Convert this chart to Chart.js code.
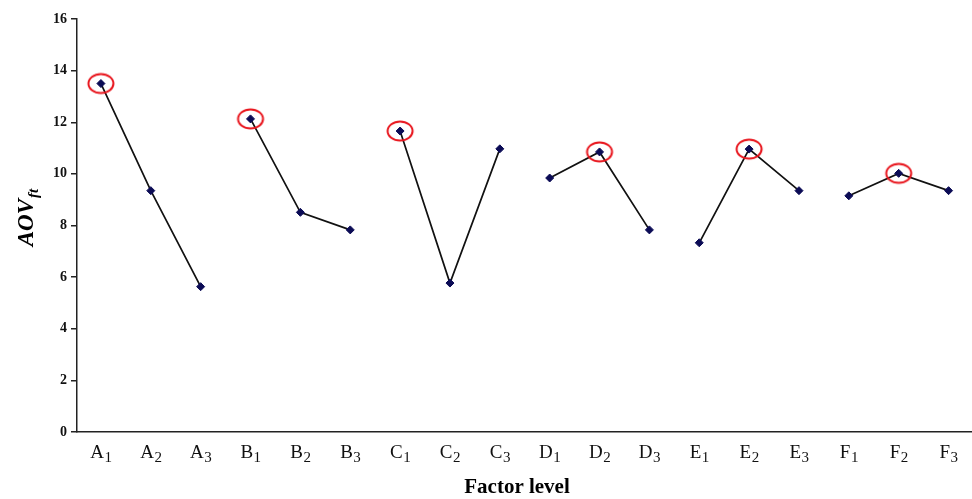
<!DOCTYPE html>
<html>
<head>
<meta charset="utf-8">
<script src="https://cdn.jsdelivr.net/npm/chart.js@4/dist/chart.umd.min.js"></script>
<style>
    html, body { margin: 0; padding: 0; background: #fff; }
    #wrap { width: 972px; height: 499px; }
</style>
</head>
<body>
<div id="wrap"><canvas id="chart" width="972" height="499"></canvas></div>
<script>
// Данные
const factors = ['A', 'B', 'C', 'D', 'E', 'F'];
const levels = ['1', '2', '3'];
const valuesA = [13.5, 9.35, 5.63];
const valuesB = [12.13, 8.51, 7.83];
const valuesC = [11.66, 5.77, 10.97];
const valuesD = [9.84, 10.85, 7.83];
const valuesE = [7.33, 10.96, 9.35];
const valuesF = [9.15, 10.02, 9.35];
const yTicks = [0, 2, 4, 6, 8, 10, 12, 14, 16];
const xTitle = 'Factor level';
const yTitle = 'AOV';
const yTitleSub = 'ft';

const groups = [valuesA, valuesB, valuesC, valuesD, valuesE, valuesF];
const SERIF = '"Liberation Serif", "DejaVu Serif", serif';

// Категории (буква + индекс)
const categories = [];
factors.forEach(f => levels.forEach(l => categories.push({ letter: f, sub: l })));

// Красный эллипс для оптимального уровня
function makeEllipse() {
    const c = document.createElement('canvas');
    c.width = 30;
    c.height = 24;
    const g = c.getContext('2d');
    g.strokeStyle = '#e8141c';
    g.lineWidth = 2;
    g.beginPath();
    g.ellipse(15, 12, 12.5, 9.5, 0, 0, Math.PI * 2);
    g.stroke();
    return c;
}

// Наборы данных: по одной линии на фактор
const datasets = groups.map((vals, gi) => ({
    data: vals.map((v, li) => ({ x: gi * 3 + li, y: v })),
    borderColor: '#111',
    borderWidth: 1.7,
    pointStyle: 'rectRot',
    pointRadius: 4,
    pointBackgroundColor: '#0b0b55',
    pointBorderColor: '#0b0b55',
    pointBorderWidth: 1,
    order: 2
}));

// Оптимальные уровни (максимум в каждой группе)
const ellipse = makeEllipse();
datasets.push({
    data: groups.map((vals, gi) => {
        const li = vals.indexOf(Math.max(...vals));
        return { x: gi * 3 + li, y: vals[li] };
    }),
    showLine: false,
    pointStyle: ellipse,
    pointRadius: 12,
    order: 1
});

// Подписи оси X с подстрочными индексами и заголовки осей
const labelsPlugin = {
    id: 'labels',
    afterDraw(chart) {
        const ctx = chart.ctx;
        const xs = chart.scales.x;
        const area = chart.chartArea;
        ctx.save();
        ctx.fillStyle = '#111';
        ctx.textBaseline = 'alphabetic';
        categories.forEach((c, i) => {
            const px = xs.getPixelForValue(i);
            ctx.font = '19px ' + SERIF;
            const w1 = ctx.measureText(c.letter).width;
            ctx.font = '15px ' + SERIF;
            const w2 = ctx.measureText(c.sub).width;
            const x0 = px - (w1 + w2) / 2;
            ctx.font = '19px ' + SERIF;
            ctx.textAlign = 'left';
            ctx.fillText(c.letter, x0, area.bottom + 26);
            ctx.font = '15px ' + SERIF;
            ctx.fillText(c.sub, x0 + w1 + 0.5, area.bottom + 30);
        });

        // Заголовок оси X
        ctx.font = 'bold 21px ' + SERIF;
        ctx.textAlign = 'center';
        ctx.fillStyle = '#000';
        ctx.fillText(xTitle, 517, 493);

        // Заголовок оси Y (повёрнутый)
        ctx.translate(33, 218);
        ctx.rotate(-Math.PI / 2);
        ctx.font = 'bold italic 23px ' + SERIF;
        const wm = ctx.measureText(yTitle).width;
        ctx.font = 'bold italic 15px ' + SERIF;
        const ws = ctx.measureText(yTitleSub).width;
        const start = -(wm + ws) / 2;
        ctx.textAlign = 'left';
        ctx.font = 'bold italic 23px ' + SERIF;
        ctx.fillText(yTitle, start, 0);
        ctx.font = 'bold italic 15px ' + SERIF;
        ctx.fillText(yTitleSub, start + wm + 1, 5);
        ctx.restore();
    }
};

const ctx = document.getElementById('chart').getContext('2d');
const chart = new Chart(ctx, {
    type: 'line',
    data: { datasets: datasets },
    plugins: [labelsPlugin],
    options: {
        responsive: false,
        animation: false,
        events: [],
        layout: { autoPadding: false, padding: { top: 19, right: 1, left: 0, bottom: 0 } },
        plugins: {
            legend: { display: false },
            tooltip: { enabled: false }
        },
        scales: {
            x: {
                type: 'linear',
                min: -0.48,
                max: 17.45,
                afterBuildTicks: (scale) => {
                    scale.ticks = categories.map((_, i) => ({ value: i }));
                },
                afterFit: (scale) => { scale.height = 67; },
                ticks: { display: false },
                grid: { display: false },
                border: { display: true, color: '#222', width: 1.5 }
            },
            y: {
                min: 0,
                max: 16,
                afterBuildTicks: (scale) => {
                    scale.ticks = yTicks.map(v => ({ value: v }));
                },
                afterFit: (scale) => { scale.width = 77; },
                ticks: {
                    color: '#111',
                    padding: 4,
                    font: { family: SERIF, size: 14, weight: 'bold' }
                },
                grid: {
                    drawOnChartArea: false,
                    drawTicks: true,
                    tickLength: 6,
                    color: '#222',
                    lineWidth: 1.5
                },
                border: { display: true, color: '#222', width: 1.5 }
            }
        }
    }
});
</script>
</body>
</html>
